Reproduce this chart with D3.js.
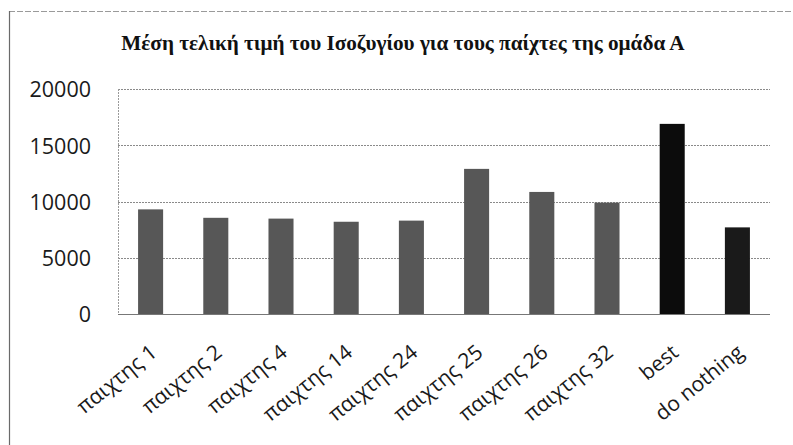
<!DOCTYPE html>
<html>
<head>
<meta charset="utf-8">
<script src="https://cdn.jsdelivr.net/npm/d3@7"></script>
<style>
  html, body { margin: 0; padding: 0; background: #fff; }
  svg { display: block; }
</style>
</head>
<body>
<svg id="chart" width="793" height="445"></svg>
<script>
const titleText = "Μέση τελική τιμή του Ισοζυγίου για τους παίχτες της ομάδα Α";
const categories = ["παιχτης 1", "παιχτης 2", "παιχτης 4", "παιχτης 14", "παιχτης 24",
                    "παιχτης 25", "παιχτης 26", "παιχτης 32", "best", "do nothing"];
const values = [9300, 8550, 8480, 8200, 8300, 12900, 10850, 9900, 16900, 7700];
const yTicks = [0, 5000, 10000, 15000, 20000];
const barColors = ["#575757", "#575757", "#575757", "#575757", "#575757",
                   "#575757", "#575757", "#575757", "#0c0c0c", "#1a1a1a"];

const svg = d3.select("#chart");
const plot = { left: 118, right: 770, top: 89, bottom: 314 };

// outer frame (top and left edges visible in reference)
svg.append("line").attr("x1", 9).attr("x2", 793).attr("y1", 11.5).attr("y2", 11.5)
  .attr("stroke", "#9a9a9a").attr("stroke-width", 1).attr("stroke-dasharray", "6,2");
svg.append("line").attr("x1", 9.5).attr("x2", 9.5).attr("y1", 11).attr("y2", 445)
  .attr("stroke", "#6a6a6a").attr("stroke-width", 1.2);

// title
svg.append("text")
  .attr("x", 403).attr("y", 50)
  .attr("text-anchor", "middle")
  .attr("font-family", "'Liberation Serif', 'Times New Roman', serif")
  .attr("font-weight", "bold")
  .attr("font-size", 21.2)
  .attr("fill", "#111")
  .text(titleText);

const x = d3.scaleBand().domain(categories).range([plot.left, plot.right])
  .paddingInner(0.616).paddingOuter(0.308);
const y = d3.scaleLinear().domain([0, 20000]).range([plot.bottom, plot.top]);

// gridlines
svg.append("g").selectAll("line").data(yTicks.filter(d => d > 0)).join("line")
  .attr("x1", plot.left).attr("x2", plot.right)
  .attr("y1", d => Math.round(y(d)) + 0.5).attr("y2", d => Math.round(y(d)) + 0.5)
  .attr("stroke", "#8a8a8a").attr("stroke-width", 1).attr("stroke-dasharray", "2,1");

// left plot edge
svg.append("line").attr("x1", plot.left + 0.5).attr("x2", plot.left + 0.5)
  .attr("y1", plot.top).attr("y2", plot.bottom)
  .attr("stroke", "#9a9a9a").attr("stroke-dasharray", "2,1");

// y axis labels
const yAxis = d3.axisLeft(y).tickValues(yTicks).tickSize(0).tickPadding(0).tickFormat(d3.format("d"));
const gy = svg.append("g").attr("transform", `translate(${plot.left - 27},0)`).call(yAxis);
gy.select(".domain").remove();
gy.selectAll("text")
  .attr("font-family", "'Open Sans', 'Liberation Sans', sans-serif")
  .attr("font-size", 21.5)
  .attr("fill", "#1a1a1a")
  .attr("dy", "0.36em");

// bars
svg.append("g").selectAll("rect").data(values).join("rect")
  .attr("x", (d, i) => x(categories[i]))
  .attr("width", x.bandwidth())
  .attr("y", d => y(d))
  .attr("height", d => y(0) - y(d))
  .attr("fill", (d, i) => barColors[i]);

// x axis baseline
svg.append("line").attr("x1", plot.left).attr("x2", plot.right)
  .attr("y1", plot.bottom + 0.5).attr("y2", plot.bottom + 0.5)
  .attr("stroke", "#777").attr("stroke-width", 1.2);

// x axis labels
const xAxis = d3.axisBottom(x).tickSize(0).tickPadding(0);
const gx = svg.append("g").attr("transform", `translate(0,${plot.bottom})`).call(xAxis);
gx.select(".domain").remove();
gx.selectAll(".tick text")
  .attr("font-family", "'Open Sans', 'Liberation Sans', sans-serif")
  .attr("font-size", 21)
  .attr("fill", "#1a1a1a")
  .attr("text-anchor", "end")
  .attr("y", 0).attr("dy", "0.35em")
  .attr("transform", "translate(3,35) rotate(-39)");
</script>
</body>
</html>
